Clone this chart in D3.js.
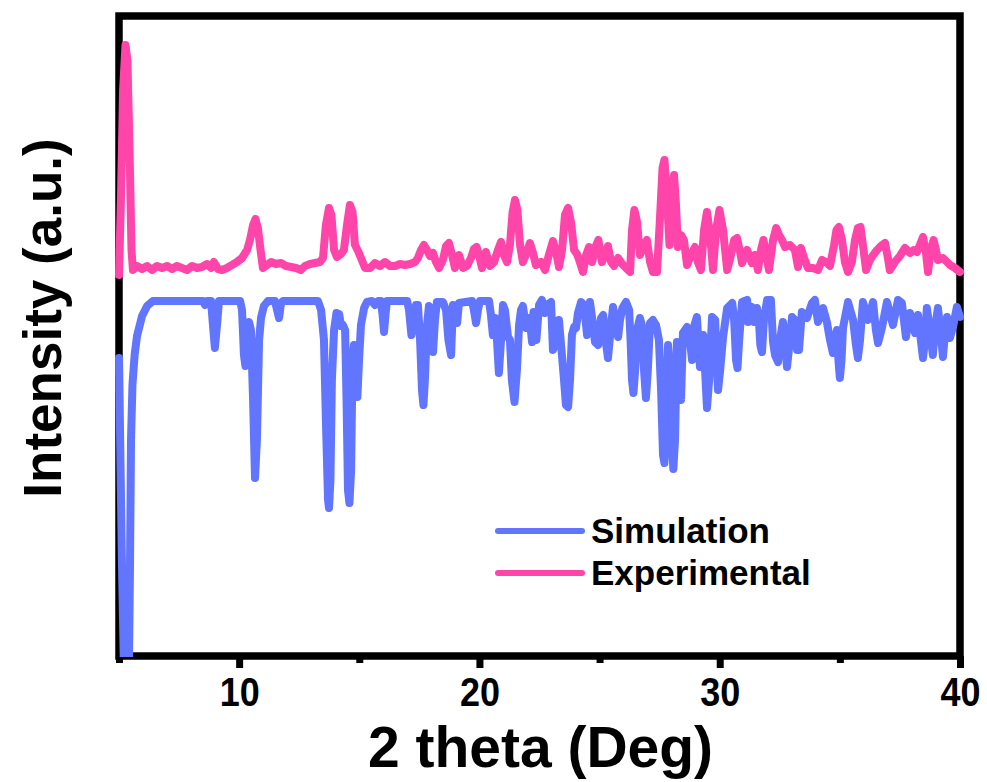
<!DOCTYPE html>
<html>
<head>
<meta charset="utf-8">
<script src="https://cdn.jsdelivr.net/npm/d3@7"></script>
<style>
  html, body { margin: 0; padding: 0; background: #ffffff; }
  svg { display: block; }
  text { font-family: "Liberation Sans", Arial, Helvetica, sans-serif; font-weight: bold; fill: #000; }
</style>
</head>
<body>
<div id="chart"></div>
<script>
// PXRD patterns: 2θ (deg) and intensity (a.u., stacked offsets)
const experimental = [
  [5.00,3810],[5.08,4560],[5.17,5660],[5.27,6110],[5.35,5960],[5.44,5060],[5.52,4060],[5.58,3860],
  [5.75,3900],[5.96,3870],[6.17,3900],[6.37,3860],[6.58,3900],[6.79,3880],[7.00,3900],[7.21,3870],
  [7.41,3900],[7.62,3880],[7.83,3860],[8.04,3900],[8.25,3880],[8.45,3890],[8.66,3920],[8.83,3880],
  [8.95,3940],[9.12,3870],[9.29,3860],[9.49,3880],[9.70,3910],[9.91,3940],[10.12,3980],[10.33,4060],
  [10.45,4160],[10.58,4310],[10.68,4370],[10.78,4280],[10.89,4060],[10.99,3880],[11.16,3910],[11.33,3940],
  [11.53,3920],[11.74,3930],[11.95,3900],[12.16,3890],[12.37,3880],[12.57,3860],[12.74,3900],[12.95,3920],
  [13.16,3930],[13.36,3940],[13.49,3980],[13.61,4310],[13.74,4480],[13.84,4410],[13.95,4060],[14.07,3990],
  [14.24,4020],[14.36,4060],[14.49,4310],[14.61,4510],[14.72,4440],[14.82,4110],[14.95,4050],[15.07,3980],
  [15.24,3880],[15.45,3880],[15.65,3930],[15.86,3900],[16.07,3940],[16.28,3900],[16.49,3900],[16.69,3920],
  [16.90,3910],[17.11,3920],[17.32,3940],[17.44,3980],[17.57,4060],[17.69,4110],[17.82,4060],[17.94,4000],
  [18.07,4030],[18.19,3940],[18.32,3880],[18.48,3960],[18.61,4100],[18.73,4130],[18.86,4010],[18.98,3880],
  [19.15,4010],[19.32,3880],[19.48,3900],[19.65,3980],[19.77,4070],[19.88,4090],[19.98,4010],[20.11,3880],
  [20.27,4040],[20.44,3900],[20.61,3940],[20.77,4060],[20.90,4140],[21.02,4010],[21.15,3940],[21.27,4110],
  [21.38,4440],[21.48,4560],[21.58,4460],[21.69,4110],[21.81,3940],[21.98,4040],[22.10,4130],[22.23,4030],
  [22.35,3910],[22.56,3940],[22.73,3860],[22.89,4010],[23.06,4150],[23.19,4040],[23.31,3890],[23.44,4060],
  [23.56,4410],[23.69,4480],[23.81,4340],[23.94,4060],[24.06,4020],[24.18,3940],[24.31,3840],[24.44,4010],
  [24.56,4090],[24.69,3940],[24.81,4080],[24.95,4160],[25.10,3940],[25.23,4010],[25.35,4100],[25.48,3940],
  [25.60,3900],[25.77,3980],[25.94,3920],[26.10,3880],[26.27,3840],[26.35,4260],[26.45,4460],[26.56,4340],
  [26.68,4010],[26.85,4110],[26.97,4160],[27.10,3940],[27.22,3840],[27.39,3840],[27.51,4360],[27.62,4880],
  [27.70,4960],[27.80,4610],[27.91,4110],[28.01,4610],[28.10,4810],[28.18,4510],[28.26,4090],[28.39,4210],
  [28.51,4160],[28.64,3910],[28.80,4010],[28.97,4090],[29.09,3940],[29.22,3860],[29.35,4260],[29.47,4440],
  [29.60,4210],[29.72,3860],[29.85,4260],[29.99,4460],[30.14,4260],[30.31,3860],[30.47,4010],[30.60,4160],
  [30.72,4180],[30.85,4040],[30.93,3930],[31.14,4060],[31.34,3930],[31.47,4010],[31.59,3860],[31.72,4060],
  [31.82,4160],[31.93,4010],[32.05,3860],[32.22,4160],[32.35,4280],[32.47,4210],[32.59,4160],[32.72,4090],
  [32.92,4110],[33.13,4060],[33.26,3890],[33.38,4080],[33.51,3980],[33.67,3880],[33.88,3880],[34.09,3860],
  [34.26,3960],[34.42,3940],[34.59,3900],[34.76,4110],[34.86,4260],[34.96,4290],[35.09,4160],[35.21,3940],
  [35.34,3840],[35.50,3940],[35.63,4160],[35.75,4280],[35.86,4290],[35.96,4110],[36.09,3860],[36.25,3960],
  [36.42,4020],[36.55,4060],[36.71,4100],[36.88,4130],[37.00,3980],[37.08,3860],[37.29,3940],[37.50,4000],
  [37.71,4080],[37.92,4030],[38.08,4060],[38.21,4040],[38.33,4110],[38.46,4190],[38.58,4040],[38.67,3840],
  [38.79,4060],[38.90,4160],[39.00,4060],[39.08,3960],[39.29,3980],[39.46,3940],[39.58,3910],[39.79,3880],
  [40.00,3840]
];

const simulation = [
  [5.00,2980],[5.12,960],[5.23,-440],[5.31,-1040],[5.40,-440],[5.46,960],[5.50,2160],[5.56,2710],
  [5.65,3010],[5.75,3200],[5.96,3400],[6.17,3500],[6.41,3550],[6.71,3550],[8.37,3550],[8.50,3550],
  [8.58,3510],[8.66,3550],[8.83,3550],[8.91,3310],[8.99,3080],[9.08,3310],[9.16,3550],[10.04,3550],
  [10.12,3460],[10.20,3010],[10.26,2900],[10.33,3110],[10.41,3340],[10.49,3260],[10.58,2560],[10.66,1780],
  [10.74,2160],[10.83,3160],[10.91,3380],[11.03,3500],[11.20,3550],[11.49,3550],[11.58,3460],[11.66,3380],
  [11.74,3520],[11.82,3550],[13.28,3550],[13.41,3460],[13.53,3160],[13.61,2360],[13.70,1560],[13.74,1480],
  [13.80,1760],[13.86,2760],[13.95,3260],[14.05,3430],[14.16,3420],[14.24,3300],[14.32,3310],[14.41,3260],
  [14.47,2560],[14.53,1660],[14.59,1530],[14.66,1860],[14.72,2960],[14.78,3110],[14.87,2810],[14.92,2590],
  [14.99,2960],[15.07,3310],[15.20,3480],[15.32,3540],[15.53,3550],[15.65,3510],[15.78,3550],[15.90,3550],
  [15.97,3410],[16.03,3240],[16.09,3410],[16.15,3550],[16.99,3550],[17.07,3460],[17.17,3210],[17.28,3360],
  [17.36,3510],[17.44,3510],[17.53,3160],[17.61,2660],[17.67,2510],[17.73,2760],[17.82,3310],[17.90,3500],
  [17.98,3460],[18.07,3040],[18.15,3360],[18.23,3540],[18.48,3540],[18.61,3460],[18.71,3160],[18.82,3010],
  [18.90,3510],[18.98,3440],[19.07,3330],[19.15,3530],[19.69,3550],[19.77,3460],[19.86,3330],[19.94,3460],
  [20.02,3550],[20.40,3550],[20.48,3410],[20.56,3210],[20.65,3380],[20.73,3160],[20.81,2830],[20.90,3160],
  [20.98,3510],[21.06,3460],[21.19,3190],[21.27,3160],[21.35,2760],[21.46,2540],[21.56,2860],[21.65,3310],
  [21.73,3460],[21.81,3500],[21.94,3280],[22.06,3380],[22.14,3260],[22.19,3140],[22.25,3440],[22.31,3310],
  [22.37,3160],[22.48,3510],[22.60,3560],[22.73,3430],[22.85,3520],[22.98,3540],[23.06,3060],[23.19,3160],
  [23.31,3360],[23.44,2990],[23.52,2760],[23.60,2510],[23.69,2490],[23.77,2760],[23.85,3210],[23.94,3290],
  [24.02,3280],[24.10,3430],[24.23,3540],[24.35,3510],[24.48,3210],[24.60,3540],[24.73,3310],[24.81,3140],
  [24.94,3110],[25.06,3380],[25.15,3410],[25.25,3160],[25.35,2980],[25.46,3260],[25.56,3490],[25.66,3360],
  [25.77,3190],[25.85,3360],[25.95,3480],[26.10,3540],[26.23,3460],[26.29,3160],[26.35,2760],[26.41,2630],
  [26.48,2860],[26.56,3260],[26.68,3380],[26.76,3310],[26.85,2860],[26.93,2580],[27.01,2860],[27.10,3330],
  [27.22,3360],[27.35,3310],[27.47,3160],[27.56,2660],[27.64,2010],[27.70,1930],[27.76,2260],[27.85,3110],
  [27.93,2860],[28.01,2160],[28.07,1870],[28.14,2160],[28.22,3140],[28.30,2960],[28.39,2560],[28.47,3230],
  [28.64,3290],[28.76,3160],[28.85,2960],[28.95,3310],[29.05,3390],[29.18,2890],[29.31,3210],[29.39,2860],
  [29.47,2480],[29.56,2760],[29.68,3390],[29.81,3360],[29.87,2960],[29.93,2660],[30.02,2860],[30.14,3190],
  [30.31,3480],[30.52,3530],[30.60,3360],[30.68,2960],[30.74,2880],[30.81,3160],[30.93,3540],[31.14,3560],
  [31.18,3340],[31.27,3460],[31.34,3490],[31.43,3340],[31.55,3480],[31.63,3360],[31.69,3110],[31.76,3040],
  [31.84,3360],[31.97,3560],[32.13,3560],[32.22,3140],[32.30,3010],[32.43,2940],[32.51,3160],[32.63,3340],
  [32.72,3160],[32.80,2890],[32.90,3110],[33.01,3390],[33.13,3360],[33.22,3060],[33.30,3060],[33.42,3440],
  [33.63,3380],[33.84,3530],[33.96,3560],[34.09,3340],[34.30,3480],[34.46,3340],[34.59,3160],[34.71,3030],
  [34.88,3260],[34.94,2960],[35.00,2780],[35.07,2960],[35.13,3280],[35.34,3540],[35.55,3360],[35.67,3110],
  [35.75,2980],[35.84,3160],[35.96,3540],[36.17,3360],[36.38,3540],[36.50,3260],[36.59,3130],[36.75,3280],
  [36.96,3540],[37.21,3310],[37.42,3560],[37.58,3530],[37.75,3190],[37.92,3430],[38.13,3230],[38.25,3410],
  [38.37,3160],[38.46,2980],[38.54,3160],[38.62,3480],[38.75,3260],[38.87,3010],[38.98,3310],[39.08,3480],
  [39.21,3210],[39.29,2990],[39.37,3210],[39.46,3390],[39.58,3180],[39.71,3290],[39.87,3490],[40.00,3390]
];

const series = [
  { name: "Simulation",   data: simulation,   color: "#6175ff" },
  { name: "Experimental", data: experimental, color: "#ff45aa" }
];

const xMajorTicks = [10, 20, 30, 40];
const xMinorTicks = [5, 15, 25, 35];
const xDomain = [5, 40];
const yDomain = [0, 6400];

const xTitle = "2 theta (Deg)";
const yTitle = "Intensity (a.u.)";

const W = 987, H = 782;
const plot = { left: 119, right: 960, top: 16, bottom: 656 };

const svg = d3.select("#chart").append("svg")
  .attr("width", W).attr("height", H)
  .attr("viewBox", `0 0 ${W} ${H}`);

const x = d3.scaleLinear().domain(xDomain).range([plot.left, plot.right]);
const y = d3.scaleLinear().domain(yDomain).range([plot.bottom, plot.top]);

// traces are clipped at the bottom axis but may run over the side borders
svg.append("defs").append("clipPath").attr("id", "plot-clip")
  .append("rect")
  .attr("x", plot.left - 6).attr("y", plot.top - 4)
  .attr("width", plot.right - plot.left + 12).attr("height", plot.bottom - plot.top + 5);

// Bottom axis: minor and major ticks
const minorAxis = d3.axisBottom(x).tickValues(xMinorTicks).tickSize(7).tickFormat("");
const majorAxis = d3.axisBottom(x).tickValues(xMajorTicks).tickSize(12).tickPadding(10)
  .tickFormat(d3.format("d"));

const gMinor = svg.append("g").attr("transform", `translate(0,${plot.bottom})`).call(minorAxis);
const gMajor = svg.append("g").attr("transform", `translate(0,${plot.bottom})`).call(majorAxis);
[gMinor, gMajor].forEach(g => {
  g.select(".domain").remove();
  g.selectAll(".tick line").attr("stroke", "#000").attr("stroke-width", 7);
});
// tick labels: slightly condensed bold digits
gMajor.selectAll(".tick text")
  .attr("fill", "#000")
  .attr("transform", "scale(0.9,1)")
  .style("font-size", "40px")
  .style("font-weight", "bold")
  .style("font-family", "'Liberation Sans', Arial, sans-serif");

// Frame
svg.append("rect")
  .attr("x", plot.left).attr("y", plot.top)
  .attr("width", plot.right - plot.left).attr("height", plot.bottom - plot.top)
  .attr("fill", "none").attr("stroke", "#000").attr("stroke-width", 7.5);

// Patterns (drawn over the frame)
const line = d3.line().x(d => x(d[0])).y(d => y(d[1]));
const traces = svg.append("g").attr("clip-path", "url(#plot-clip)");
traces.selectAll("path.trace")
  .data(series)
  .join("path")
  .attr("class", "trace")
  .attr("d", d => line(d.data))
  .attr("fill", "none")
  .attr("stroke", d => d.color)
  .attr("stroke-width", 8)
  .attr("stroke-linejoin", "round")
  .attr("stroke-linecap", "round");

// Axis titles
svg.append("text")
  .attr("x", (plot.left + plot.right) / 2 + 1).attr("y", 767)
  .attr("text-anchor", "middle")
  .style("font-size", "57px")
  .text(xTitle);

svg.append("text")
  .attr("transform", `translate(61,318) rotate(-90)`)
  .attr("text-anchor", "middle")
  .style("font-size", "53px")
  .text(yTitle);

// Legend
const legend = svg.append("g").attr("transform", "translate(498,531)");
const items = legend.selectAll("g.item").data(series).join("g")
  .attr("class", "item")
  .attr("transform", (d, i) => `translate(0,${i * 42})`);
items.append("line")
  .attr("x1", 0).attr("x2", 84).attr("y1", 0).attr("y2", 0)
  .attr("stroke", d => d.color).attr("stroke-width", 6).attr("stroke-linecap", "round");
items.append("text")
  .attr("x", 93).attr("y", 12)
  .style("font-size", "35px")
  .text(d => d.name);
</script>
</body>
</html>
